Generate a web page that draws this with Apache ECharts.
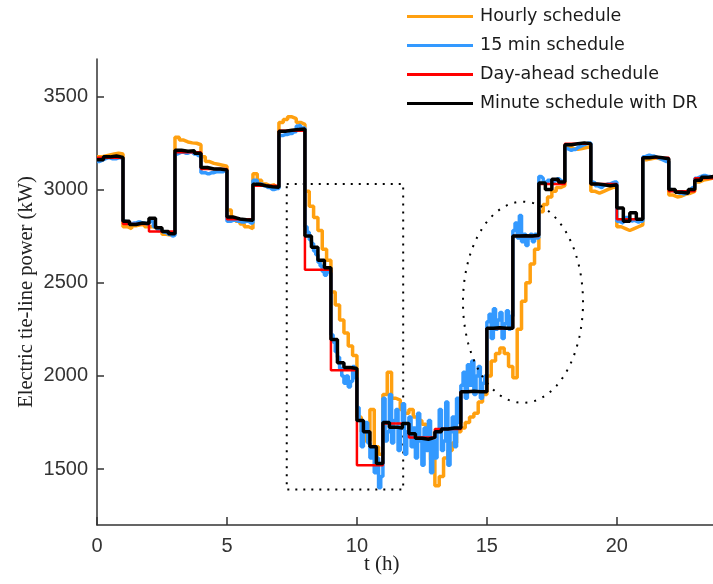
<!DOCTYPE html>
<html><head><meta charset="utf-8">
<script src="https://cdn.jsdelivr.net/npm/echarts@6/dist/echarts.min.js"></script>
<style>html,body{margin:0;padding:0;background:#fff}#c{width:713px;height:584px}</style>
</head><body><div id="c"></div>
<script>
// ---- data (kW) ----
// Day-ahead schedule: one value per hour
const dayAhead = [3170, 2815, 2775, 3200, 3110, 2840, 3020, 3315, 2570, 2030, 1520, 1745,
                  1670, 1715, 1915, 2255, 2750, 3030, 3245, 3030, 2840, 3170, 2990, 3060];
// Minute schedule with DR: sampled every 15 min
const minuteDR = [
  3160, 3175, 3180, 3172,  2830, 2812, 2820, 2818,  2845, 2795, 2775, 2762,
  3210, 3205, 3208, 3195,  3118, 3110, 3110, 3105,  2852, 2842, 2838, 2835,
  3028, 3020, 3015, 3012,  3312, 3318, 3322, 3325,  2750, 2690, 2620, 2580,
  2195, 2070, 2045, 2040,  1760, 1700, 1620, 1530,  1750, 1725, 1720, 1745,
  1690, 1665, 1660, 1670,  1700, 1715, 1720, 1720,  1915, 1918, 1915, 1915,
  2255, 2258, 2255, 2255,  2750, 2752, 2750, 2755,  3035, 3000, 3055, 3040,
  3240, 3245, 3250, 3245,  3030, 3025, 3020, 3025,  2900, 2830, 2875, 2840,
  3170, 3175, 3170, 3165,  3000, 2985, 2980, 3000,  3050, 3065, 3070, 3065];
// Hourly schedule: sampled every 10 min
const hourlySchedule = [
  3175, 3180, 3185, 3190, 3195, 3190,  2800, 2790, 2805, 2810, 2815, 2800,
  2800, 2790, 2780, 2760, 2755, 2760,  3280, 3265, 3255, 3250, 3248, 3240,
  3175, 3150, 3140, 3135, 3130, 3125,  2890, 2850, 2830, 2815, 2800, 2790,
  3085, 3050, 3030, 3020, 3025, 3010,  3360, 3375, 3390, 3380, 3360, 3350,
  2990, 2910, 2850, 2780, 2680, 2620,  2450, 2380, 2300, 2230, 2160, 2110,
  1780, 1700, 1650, 1820, 1620, 1580,  1900, 2020, 1880, 1870, 1820, 1800,
  1820, 1780, 1760, 1740, 1700, 1550,  1410, 1460, 1560, 1600, 1640, 1700,
  1720, 1750, 1780, 1800, 1860, 1900,  2000, 2080, 2120, 2150, 2120, 2050,
  1990, 2250, 2400, 2500, 2600, 2680,  2880, 2920, 2960, 2990, 3010, 3020,
  3230, 3220, 3215, 3220, 3225, 3230,  2990, 2980, 2990, 3000, 3010, 3020,
  2800, 2790, 2780, 2790, 2800, 2810,  3160, 3165, 3170, 3165, 3160, 3150,
  2970, 2960, 2965, 2975, 2980, 2990,  3040, 3050, 3055, 3060, 3060, 3060];
// 15 min schedule: sampled every 5 min
const min15Schedule = [
  3150, 3155, 3160, 3165, 3170, 3170, 3165, 3165, 3165, 3170, 3170, 3165,
  2830, 2825, 2815, 2815, 2820, 2820, 2825, 2825, 2820, 2820, 2815, 2815,
  2830, 2825, 2800, 2795, 2780, 2780, 2770, 2770, 2760, 2760, 2750, 2755,
  3190, 3195, 3200, 3200, 3195, 3195, 3200, 3200, 3190, 3190, 3180, 3185,
  3090, 3090, 3085, 3085, 3090, 3090, 3095, 3095, 3095, 3095, 3100, 3100,
  2830, 2830, 2835, 2835, 2830, 2830, 2825, 2825, 2830, 2830, 2820, 2820,
  3050, 3050, 3030, 3030, 3020, 3020, 3010, 3010, 3000, 3000, 3005, 3005,
  3290, 3290, 3295, 3295, 3300, 3300, 3310, 3310, 3340, 3345, 3330, 3330,
  2800, 2770, 2730, 2710, 2670, 2650, 2610, 2590, 2560, 2540, 2560, 2550,
  2220, 2180, 2130, 2100, 2040, 2000, 1960, 2000, 1940, 1970, 2050, 1990,
  1830, 1760, 1620, 1700, 1750, 1640, 1560, 1620, 1480, 1560, 1400, 1460,
  1880, 1650, 1700, 1900, 1640, 1760, 1820, 1600, 1720, 1850, 1580, 1700,
  1780, 1620, 1720, 1560, 1800, 1650, 1520, 1720, 1600, 1760, 1480, 1650,
  1560, 1700, 1820, 1600, 1650, 1860, 1520, 1700, 1780, 1620, 1880, 1750,
  1950, 2020, 1880, 2060, 1950, 2080, 1900, 2000, 2050, 1880, 1960, 2000,
  2290, 2330, 2200, 2360, 2250, 2300, 2340, 2200, 2280, 2350, 2250, 2320,
  2780, 2820, 2740, 2860, 2720, 2760, 2700, 2740, 2760, 2720, 2760, 2740,
  3070, 3060, 3040, 3030, 3050, 3040, 3030, 3050, 3060, 3050, 3040, 3050,
  3220, 3215, 3210, 3215, 3215, 3225, 3230, 3235, 3240, 3245, 3250, 3250,
  3040, 3035, 3020, 3015, 3010, 3020, 3025, 3030, 3030, 3035, 3040, 3040,
  2830, 2825, 2820, 2835, 2850, 2840, 2830, 2835, 2830, 2825, 2830, 2830,
  3175, 3180, 3185, 3180, 3180, 3175, 3170, 3165, 3160, 3155, 3150, 3150,
  3000, 2995, 2990, 2985, 2980, 2980, 2975, 2980, 2990, 3000, 3010, 3010,
  3060, 3065, 3070, 3075, 3075, 3070, 3070, 3065, 3065, 3060, 3060, 3060];
const xTicks = [0, 5, 10, 15, 20];
const yTicks = [1500, 2000, 2500, 3000, 3500];
// annotations
const boxCorners = [[7.3, 3030], [11.78, 1390]];
const ellipseCenter = [16.39, 2395];
const ellipseRadii = [2.31, 540];

function toSteps(values, dt) {
  const pts = values.map((v, i) => [i * dt, v]);
  pts.push([values.length * dt, values[values.length - 1]]);
  return pts;
}
const ellipsePts = [];
for (let k = 0; k <= 90; k++) {
  const a = k / 90 * Math.PI * 2;
  ellipsePts.push([ellipseCenter[0] + ellipseRadii[0] * Math.cos(a),
                   ellipseCenter[1] + ellipseRadii[1] * Math.sin(a)]);
}

const axisCol = '#333';
const chart = echarts.init(document.getElementById('c'));
chart.setOption({
  animation: false,
  backgroundColor: '#fff',
  grid: { left: 97, top: 59, right: 0, bottom: 59, containLabel: false },
  title: {
    text: 't (h)', left: 359, top: 549,
    textStyle: { fontFamily: 'Liberation Serif', fontSize: 21, fontWeight: 'normal', color: '#222' }
  },
  legend: {
    orient: 'vertical', left: 402, top: 2,
    icon: 'rect', itemWidth: 66, itemHeight: 3, itemGap: 10,
    data: ['Hourly schedule', '15 min schedule', 'Day-ahead schedule', 'Minute schedule with DR'],
    textStyle: { fontFamily: 'DejaVu Sans', fontSize: 17.5, color: '#1a1a1a', lineHeight: 19, padding: [0, 0, 0, 2] }
  },
  xAxis: {
    type: 'value', min: 0, max: 23.7,
    axisLine: { lineStyle: { color: axisCol, width: 1.5 } },
    axisTick: { inside: true, length: 8, customValues: xTicks, lineStyle: { color: axisCol, width: 1.5 } },
    axisLabel: { customValues: xTicks, margin: 11, fontFamily: 'Liberation Sans', fontSize: 20, color: '#333' },
    splitLine: { show: false }
  },
  yAxis: {
    type: 'value', min: 1200, max: 3700,
    name: 'Electric tie-line power (kW)', nameLocation: 'middle', nameGap: 60, nameMoveOverlap: false,
    nameTextStyle: { fontFamily: 'Liberation Serif', fontSize: 20.5, color: '#222' },
    axisLine: { show: true, lineStyle: { color: axisCol, width: 1.5 } },
    axisTick: { show: true, inside: true, length: 7, customValues: yTicks, lineStyle: { color: axisCol, width: 1.5 } },
    axisLabel: { customValues: yTicks, margin: 9, formatter: v => String(v),
                 fontFamily: 'Liberation Sans', fontSize: 20, color: '#333' },
    splitLine: { show: false }
  },
  series: [
    { name: 'Hourly schedule', type: 'line', step: 'end', symbol: 'none', data: toSteps(hourlySchedule, 1 / 6),
      lineStyle: { color: '#FFA010', width: 3.5 }, itemStyle: { color: '#FFA010' } },
    { name: '15 min schedule', type: 'line', step: 'end', symbol: 'none', data: toSteps(min15Schedule, 1 / 12),
      lineStyle: { color: '#3399FF', width: 3.5 }, itemStyle: { color: '#3399FF' } },
    { name: 'Day-ahead schedule', type: 'line', step: 'end', symbol: 'none', data: toSteps(dayAhead, 1),
      lineStyle: { color: '#FF0000', width: 2.5 }, itemStyle: { color: '#FF0000' } },
    { name: 'Minute schedule with DR', type: 'line', step: 'end', symbol: 'none', data: toSteps(minuteDR, 0.25),
      lineStyle: { color: '#000000', width: 3.5 }, itemStyle: { color: '#000000' },
      markArea: {
        silent: true,
        itemStyle: { color: 'rgba(0,0,0,0)', borderColor: '#000', borderWidth: 2, borderType: [2, 6] },
        data: [[{ coord: boxCorners[0] }, { coord: boxCorners[1] }]]
      } },
    { name: 'ellipse', type: 'line', symbol: 'none', silent: true, data: ellipsePts, z: 5,
      lineStyle: { color: '#000', width: 2, type: [2, 7] } }
  ]
});
</script>
</body></html>
